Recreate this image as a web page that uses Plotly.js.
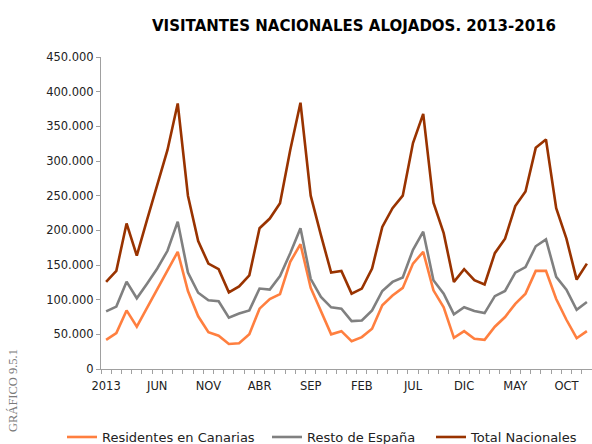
<!DOCTYPE html>
<html>
<head>
<meta charset="utf-8">
<script src="https://cdn.plot.ly/plotly-3.0.1.min.js"></script>
<style>html,body{margin:0;padding:0;background:#fff;}#chart{width:592px;height:444px;}</style>
</head>
<body>
<div id="chart"></div>
<script>
// Months Jan 2013 .. Dec 2016
const periodos = [
  'ENE 2013','FEB 2013','MAR 2013','ABR 2013','MAY 2013','JUN 2013','JUL 2013','AGO 2013','SEP 2013','OCT 2013','NOV 2013','DIC 2013',
  'ENE 2014','FEB 2014','MAR 2014','ABR 2014','MAY 2014','JUN 2014','JUL 2014','AGO 2014','SEP 2014','OCT 2014','NOV 2014','DIC 2014',
  'ENE 2015','FEB 2015','MAR 2015','ABR 2015','MAY 2015','JUN 2015','JUL 2015','AGO 2015','SEP 2015','OCT 2015','NOV 2015','DIC 2015',
  'ENE 2016','FEB 2016','MAR 2016','ABR 2016','MAY 2016','JUN 2016','JUL 2016','AGO 2016','SEP 2016','OCT 2016','NOV 2016','DIC 2016'
];
const tickIndices = [0, 5, 10, 15, 20, 25, 30, 35, 40, 45];
const tickLabels = ['2013', 'JUN', 'NOV', 'ABR', 'SEP', 'FEB', 'JUL', 'DIC', 'MAY', 'OCT'];

const residentesCanarias = [
  42000, 51700, 84500, 61000, 88000, 115000, 142000, 169000, 112500, 76000, 53000, 48000,
  36000, 37000, 50000, 87000, 101000, 108000, 154600, 180000, 117000, 84500, 50000, 54600,
  40000, 46000, 58000, 92000, 106000, 117000, 152000, 169000, 113500, 89000, 45000, 54600,
  43500, 42000, 61000, 75000, 94000, 108700, 141500, 141500, 101000, 71000, 44400, 54600
];
const restoEspana = [
  83000, 90000, 126000, 102000, 123000, 145000, 170500, 212500, 139000, 110000, 99000, 97600,
  74000, 80000, 84500, 116000, 114500, 134000, 167000, 203000, 130000, 104000, 89000, 87000,
  69000, 70000, 84500, 112500, 125600, 132000, 172000, 198000, 128000, 108700, 79000, 89000,
  83600, 80700, 105000, 112500, 139000, 147000, 177000, 187000, 133000, 114500, 85500, 96600
];
const totalNacionales = [
  125600, 141500, 210000, 163500, 215000, 265000, 316000, 383000, 250000, 184500, 152000, 144000,
  110600, 119000, 135000, 203000, 217000, 239000, 316000, 384000, 250000, 193000, 139000, 141500,
  108700, 116000, 145000, 205000, 232000, 250000, 326000, 368000, 240000, 196000, 125600, 144000,
  128000, 122000, 167000, 188000, 235000, 256000, 319000, 331000, 232000, 188000, 129000, 152000
];

const xIdx = periodos.map((_, i) => i);

const series = [
  {name: 'Residentes en Canarias', y: residentesCanarias, color: '#FF7F3F', legend: 'legend'},
  {name: 'Resto de España', y: restoEspana, color: '#808080', legend: 'legend2'},
  {name: 'Total Nacionales', y: totalNacionales, color: '#993300', legend: 'legend3'}
];

const traces = series.map(s => ({
  type: 'scatter', mode: 'lines', name: s.name, legend: s.legend,
  x: xIdx, y: s.y, text: periodos,
  line: {color: s.color, width: 2.6},
  hovertemplate: '%{text}: %{y}<extra>' + s.name + '</extra>'
}));

const axisColor = '#A0A0A0';
const fontFam = 'DejaVu Sans, Verdana, sans-serif';
const legendFont = {family: fontFam, size: 13, color: '#222'};
const legendY = -0.170;
function legendAt(px) {
  return {
    orientation: 'h', x: (px - 101) / 491, xanchor: 'left', y: legendY, yanchor: 'top',
    font: legendFont, bgcolor: 'rgba(0,0,0,0)', borderwidth: 0
  };
}

const layout = {
  width: 592, height: 444,
  paper_bgcolor: '#fff', plot_bgcolor: '#fff',
  separators: ',.',
  margin: {l: 101, r: 0, t: 57, b: 75, autoexpand: false},
  font: {family: fontFam, color: '#222'},
  title: {
    text: 'VISITANTES NACIONALES ALOJADOS. 2013-2016',
    font: {family: fontFam, size: 15, weight: 'bold', color: '#000'},
    xref: 'container', yref: 'container',
    x: 0.598, xanchor: 'center', y: 0.943, yanchor: 'middle'
  },
  xaxis: {
    type: 'linear', range: [-0.5, 47.5],
    tickmode: 'array', tickvals: tickIndices, ticktext: tickLabels,
    ticks: 'outside', ticklen: 6, tickcolor: 'rgba(0,0,0,0)',
    minor: {tickmode: 'linear', tick0: -0.5, dtick: 1, ticks: 'outside', ticklen: 4, tickcolor: axisColor, tickwidth: 1, showgrid: false},
    showline: true, linecolor: axisColor, linewidth: 1,
    showgrid: false, zeroline: false,
    tickfont: {family: fontFam, size: 11.5, color: '#222'},
    fixedrange: true
  },
  yaxis: {
    range: [0, 450000], tickmode: 'linear', tick0: 0, dtick: 50000,
    tickformat: ',d',
    ticks: 'outside', ticklen: 4, tickcolor: axisColor,
    showline: true, linecolor: axisColor, linewidth: 1,
    showgrid: false, zeroline: false,
    tickfont: {family: fontFam, size: 11.5, color: '#222'},
    fixedrange: true
  },
  showlegend: true,
  legend: legendAt(62),
  legend2: legendAt(267),
  legend3: legendAt(431),
  annotations: [{
    text: 'GRÁFICO 9.5.1', textangle: -90, showarrow: false,
    xref: 'paper', yref: 'paper',
    x: (13 - 101) / 491, y: (369 - 391) / 312,
    xanchor: 'center', yanchor: 'middle',
    font: {family: 'Liberation Serif, Times New Roman, serif', size: 12.5, color: '#7a7a7a'}
  }]
};

Plotly.newPlot('chart', traces, layout, {displayModeBar: false, staticPlot: true});
</script>
</body>
</html>
